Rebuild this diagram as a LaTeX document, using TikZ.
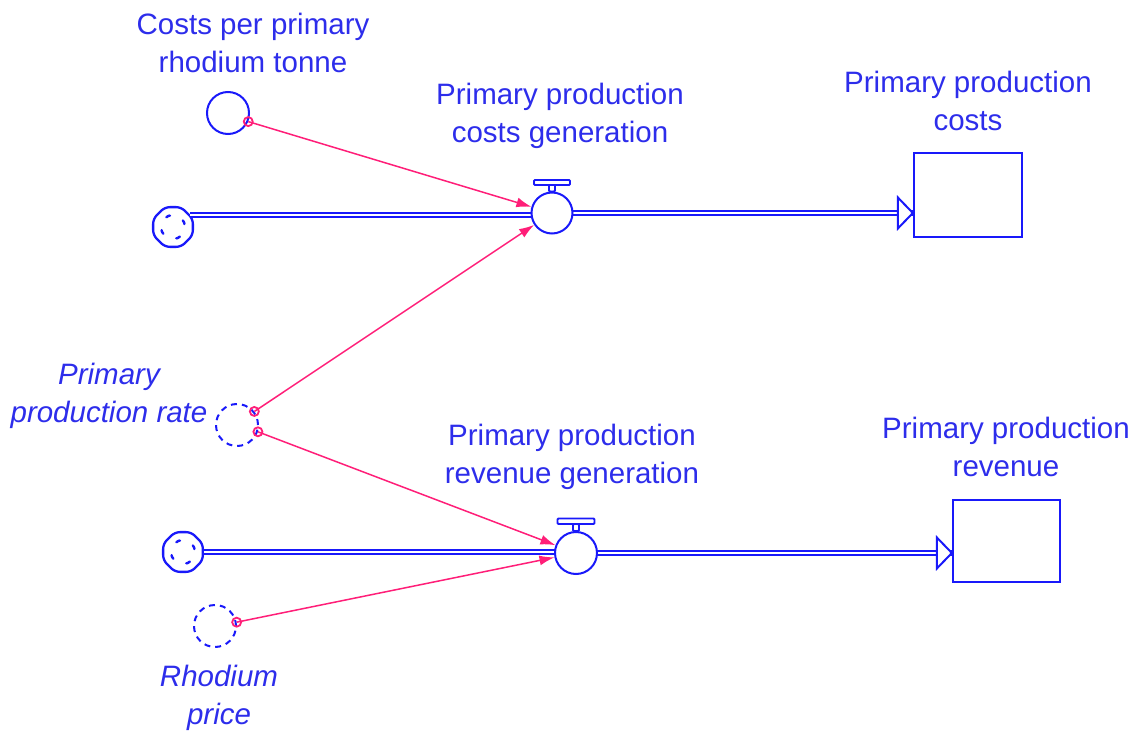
\documentclass[tikz,border=0pt]{standalone}
\usepackage{fontspec}
\setmainfont{Liberation Sans}
\usetikzlibrary{shapes.geometric,arrows.meta}
\definecolor{vblue}{RGB}{25,25,250}
\definecolor{tblue}{RGB}{45,45,235}
\definecolor{vpink}{RGB}{255,30,120}
\begin{document}
\begin{tikzpicture}[x=1pt,y=-1pt,
 lbl/.style={text=tblue,font=\fontsize{29.5}{38}\selectfont,align=center,inner sep=0},
 ilbl/.style={lbl,font=\fontsize{29.5}{38}\selectfont\itshape},
 auxv/.style={circle,draw=vblue,line width=2pt,minimum size=42pt,inner sep=0},
 ghost/.style={auxv,dash pattern=on 6pt off 5pt},
 valve/.style={circle,draw=vblue,fill=white,line width=2pt,minimum size=41pt,inner sep=0},
 stock/.style={rectangle,draw=vblue,line width=2.3pt,minimum width=108pt,minimum height=84pt,inner sep=0},
 cloud/.style={regular polygon,regular polygon sides=8,draw=vblue,line width=2.3pt,minimum size=43pt,rounded corners=5pt,inner sep=0},
 pipe/.style={draw=vblue,double=white,line width=1.6pt,double distance=2.4pt},
 conn/.style={draw=vpink,line width=1.5pt,-{Latex[length=15pt,width=10pt]}},
 dot/.style={draw=vpink,line width=1.8pt},
 handle/.style={draw=vblue,fill=white,line width=1.8pt,rounded corners=1pt},
 arrowhd/.style={draw=vblue,fill=white,line width=2pt,line join=miter},
 cmark/.style={vblue,line width=2.4pt,line cap=round,dash pattern=on 4pt off 14.85pt,dash phase=-3pt},
]
\useasboundingbox (0,0) rectangle (1141,733);

% nodes
\node[auxv] (cpt) at (228,113) {};
\node[ghost] (ppr) at (237,425) {};
\node[ghost] (rp) at (215,626) {};
\node[cloud] (c1) at (173,227) {};
\node[cloud] (c2) at (183,552) {};
\node[stock] (s1) at (968,195) {};
\node[stock,minimum width=107pt,minimum height=82pt] (s2) at (1006.5,541) {};
\coordinate (v1p) at (552,213);
\coordinate (v2p) at (576,553);

% cloud marks
\draw[cmark] (c1) circle (12pt);
\draw[cmark] (c2) circle (12pt);

% pipes
\draw[pipe] (c1.35) -- (c1.35 -| v1p);
\draw[pipe] (v1p) -- (s1.west |- v1p);
\draw[pipe] (c2.east) -- (c2.east -| v2p);
\draw[pipe] (v2p) -- (s2.west |- v2p);
\draw[arrowhd] (s1.west |- v1p) -- ++(-15,-15.5) -- ++(0,31) -- cycle;
\draw[arrowhd] (s2.west |- v2p) -- ++(-15,-15.5) -- ++(0,31) -- cycle;

% valves
\node[valve] (v1) at (v1p) {};
\node[valve,minimum size=42pt] (v2) at (v2p) {};
\draw[handle] ([xshift=-3pt]v1.north) rectangle ++(6,-7);
\draw[handle] ([xshift=-18pt,yshift=28pt]v1.center) rectangle ++(36,-5);
\draw[handle] ([xshift=-3pt]v2.north) rectangle ++(6,-7);
\draw[handle] ([xshift=-18.5pt,yshift=29pt]v2.center) rectangle ++(37,-5.5);

% connectors
\draw[conn] (cpt.-23) -- (v1);
\draw[conn] (ppr.38) -- (v1);
\draw[conn] (ppr.-18) -- (v2);
\draw[conn] (rp.10) -- (v2);
\draw[dot] (cpt.-23) circle (4.5pt);
\draw[dot] (ppr.38) circle (4.5pt);
\draw[dot] (ppr.-18) circle (4.5pt);
\draw[dot] (rp.10) circle (4.5pt);

% labels
\node[lbl] (lcpt) at (253,43) {Costs per primary\\rhodium tonne};
\node[lbl] (lv1) at (560,116) {Primary production\\costs generation};
\node[lbl] (ls1) at (968,101) {Primary production\\costs};
\node[ilbl] (lppr) at (109,396) {Primary\\production rate};
\node[lbl] (lv2) at (572,457) {Primary production\\revenue generation};
\node[lbl] (ls2) at (1006,447) {Primary production\\revenue};
\node[ilbl] (lrp) at (219,698) {Rhodium\\price};
\end{tikzpicture}
\end{document}
